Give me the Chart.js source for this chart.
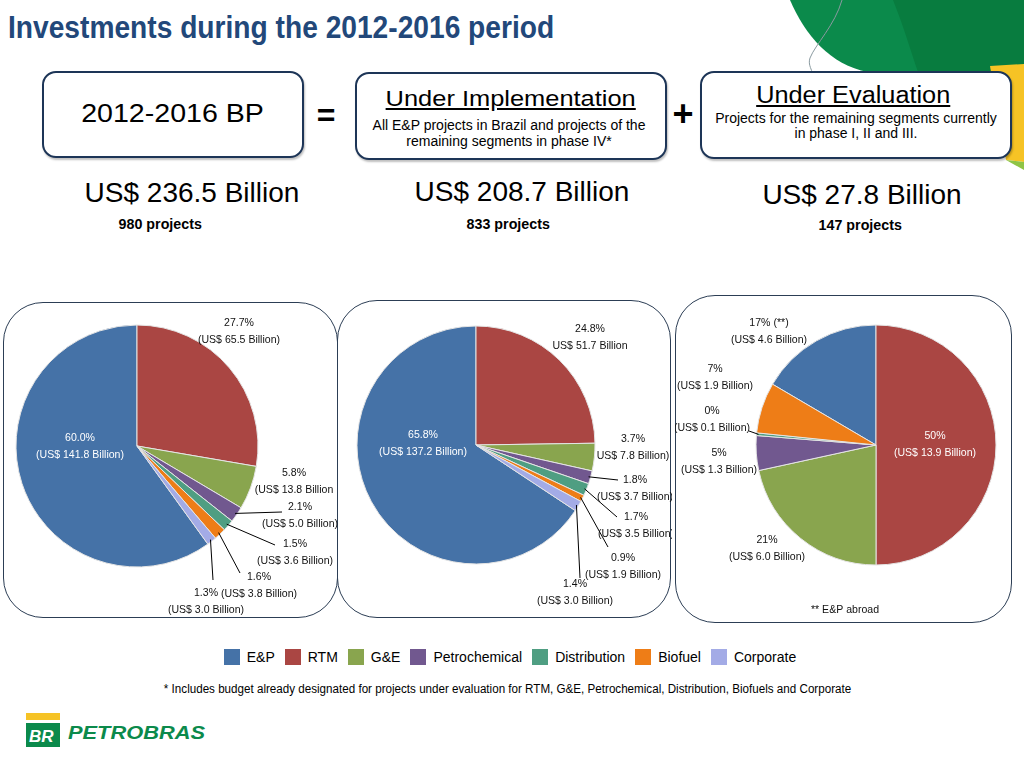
<!DOCTYPE html>
<html>
<head>
<meta charset="utf-8">
<script src="https://cdn.jsdelivr.net/npm/chart.js@4.4.0/dist/chart.umd.min.js"></script>
<style>
  html, body { margin:0; padding:0; background:#fff; }
  body { width:1024px; height:768px; position:relative; overflow:hidden; font-family:'Liberation Sans', Arial, sans-serif; color:#000; }
  .t { position:absolute; line-height:1; white-space:nowrap; text-align:center; }
  .t > span { display:inline-block; }
  .box { position:absolute; border:2px solid #1d3557; border-radius:14px; background:#fff; box-shadow:1px 2px 2px rgba(0,0,0,0.25); box-sizing:border-box; }
  .panel { position:absolute; border:1px solid #2c3e55; border-radius:40px; box-sizing:border-box; }
  canvas { position:absolute; }
  #legend { position:absolute; left:0; top:649px; width:1010px; display:flex; justify-content:center; font-size:14px; line-height:16px; }
  #legend span.sw { display:inline-block; width:16px; height:16px; margin:0 7px 0 10px; vertical-align:-3px; }
</style>
</head>
<body>
<svg width="1024" height="180" style="position:absolute;left:0;top:0">
  <path d="M790,0 C805,35 830,65 868,72 L1024,72 L1024,0 Z" fill="#0b8a4b"/>
  <path d="M893,0 C905,30 912,55 918,72 L1024,72 L1024,0 Z" fill="#087c3f"/>
  <path d="M990,66 L1024,64 L1024,162 L1006,160 Z" fill="#f6c325"/>
  <path d="M1006,160 L1024,162 L1024,170 Z" fill="#8fc446"/>
  <path d="M842,0 C835,25 815,45 810,58 C808,64 811,68 812,72" stroke="#8a9aa0" stroke-width="1" fill="none"/>
</svg>

<div class="t" style="left:8px;top:11px;text-align:left;font-size:32px;font-weight:bold;color:#22487a;"><span style="transform:scaleX(0.88);transform-origin:0 0;">Investments during the 2012-2016 period</span></div>

<div class="box" style="left:42px;top:71px;width:262px;height:87px;"></div>
<div class="box" style="left:355px;top:72px;width:312px;height:88px;"></div>
<div class="box" style="left:700px;top:71px;width:312px;height:88px;"></div>

<div class="t" style="left:23px;width:300px;top:101px;font-size:25.5px;"><span style="transform:scaleX(1.12);">2012-2016 BP</span></div>
<div class="t" style="left:306px;width:40px;top:99px;font-size:32px;font-weight:bold;">=</div>
<div class="t" style="left:361px;width:300px;top:88px;font-size:22.5px;"><span style="transform:scaleX(1.13);text-decoration:underline;">Under Implementation</span></div>
<div class="t" style="left:359px;width:300px;top:117px;font-size:14px;line-height:16px;">All E&amp;P projects in Brazil and projects of the<br>remaining segments in phase IV*</div>
<div class="t" style="left:663px;width:40px;top:96px;font-size:36px;font-weight:bold;">+</div>
<div class="t" style="left:703px;width:300px;top:84px;font-size:23px;"><span style="transform:scaleX(1.1);text-decoration:underline;">Under Evaluation</span></div>
<div class="t" style="left:706px;width:300px;top:111px;font-size:14px;line-height:15px;">Projects for the remaining segments currently<br>in phase I, II and III.</div>

<div class="t" style="left:42px;width:300px;top:179px;font-size:28px;">US$ 236.5 Billion</div>
<div class="t" style="left:372px;width:300px;top:178px;font-size:28px;">US$ 208.7 Billion</div>
<div class="t" style="left:712px;width:300px;top:181px;font-size:28px;">US$ 27.8 Billion</div>
<div class="t" style="left:60px;width:200px;top:216px;font-size:15.5px;font-weight:bold;"><span style="transform:scaleX(0.92);">980 projects</span></div>
<div class="t" style="left:408px;width:200px;top:216px;font-size:15.5px;font-weight:bold;"><span style="transform:scaleX(0.92);">833 projects</span></div>
<div class="t" style="left:760px;width:200px;top:217px;font-size:15.5px;font-weight:bold;"><span style="transform:scaleX(0.92);">147 projects</span></div>

<div class="panel" style="left:3px;top:302px;width:335px;height:316px;"></div>
<div class="panel" style="left:337px;top:300px;width:334px;height:318px;"></div>
<div class="panel" style="left:675px;top:295px;width:337px;height:328px;"></div>

<canvas id="pie1" width="335" height="322" style="left:3px;top:300px"></canvas>
<canvas id="pie2" width="335" height="322" style="left:337px;top:300px"></canvas>
<canvas id="pie3" width="339" height="328" style="left:675px;top:296px"></canvas>

<div id="legend"></div>
<div class="t" style="left:0;width:1016px;top:683px;font-size:12.5px;"><span style="transform:scaleX(0.93);">* Includes budget already designated for projects under evaluation for RTM, G&amp;E, Petrochemical, Distribution, Biofuels and Corporate</span></div>

<svg width="200" height="50" style="position:absolute;left:20px;top:708px">
  <rect x="6" y="5" width="34" height="7" fill="#f6c325"/>
  <rect x="6" y="15" width="34" height="24" fill="#0b8a4b"/>
  <text x="9" y="34" font-family="Liberation Sans" font-weight="bold" font-style="italic" font-size="17" fill="#fff">BR</text>
  <text x="48" y="31" font-family="Liberation Sans" font-weight="bold" font-style="italic" font-size="19" fill="#0b8a4b" textLength="137" lengthAdjust="spacingAndGlyphs">PETROBRAS</text>
</svg>

<script>
// segments, in legend order
const segments = ['E&P', 'RTM', 'G&E', 'Petrochemical', 'Distribution', 'Biofuel', 'Corporate'];
const colors = ['#4572a7', '#aa4643', '#89a54e', '#71588f', '#4f9e82', '#ee7d17', '#a3abe6'];

// US$ billion per segment
const bpValues = [141.8, 65.5, 13.8, 5.0, 3.6, 3.8, 3.0];
const implValues = [137.2, 51.7, 7.8, 3.7, 3.5, 1.9, 3.0];
const evalValues = [4.6, 13.9, 6.0, 1.3, 0.1, 1.9, 0];

const bpPct = ['60.0%', '27.7%', '5.8%', '2.1%', '1.5%', '1.6%', '1.3%'];
const bpUsd = ['(US$ 141.8 Billion)', '(US$ 65.5 Billion)', '(US$ 13.8 Billion', '(US$ 5.0 Billion)', '(US$ 3.6 Billion)', '(US$ 3.8 Billion)', '(US$ 3.0 Billion)'];
const implPct = ['65.8%', '24.8%', '3.7%', '1.8%', '1.7%', '0.9%', '1.4%'];
const implUsd = ['(US$ 137.2 Billion)', 'US$ 51.7 Billion', 'US$ 7.8 Billion)', '(US$ 3.7 Billion)', '(US$ 3.5 Billion)', '(US$ 1.9 Billion)', '(US$ 3.0 Billion)'];
const evalPct = ['17% (**)', '50%', '21%', '5%', '0%', '7%', ''];
const evalUsd = ['(US$ 4.6 Billion)', '(US$ 13.9 Billion)', '(US$ 6.0 Billion)', '(US$ 1.3 Billion)', '(US$ 0.1 Billion)', '(US$ 1.9 Billion)', ''];

const LABEL_FONT = "11.6px 'Liberation Sans', Arial, sans-serif";
const LABEL_SX = 0.91; // the slide uses a condensed face

// label layout: page position of the label's first line, optional leader end point
const bpLayout = [
  {x: 80, y: 438, white: true}, {x: 239, y: 323}, {x: 294, y: 473},
  {x: 300, y: 507, lx: 282, ly: 512}, {x: 295, y: 544, lx: 275, ly: 545},
  {x: 259, y: 577, lx: 240, ly: 573}, {x: 206, y: 593, lx: 213, ly: 580}
];
const implLayout = [
  {x: 423, y: 435, white: true}, {x: 590, y: 329}, {x: 633, y: 439},
  {x: 635, y: 480, lx: 618, ly: 480}, {x: 636, y: 517, lx: 617, ly: 517},
  {x: 623, y: 558, lx: 608, ly: 547}, {x: 575, y: 584, lx: 580, ly: 578}
];
const evalLayout = [
  {x: 769, y: 323}, {x: 935, y: 436, white: true}, {x: 767, y: 540},
  {x: 719, y: 453}, {x: 712, y: 411, lx: 749, ly: 431}, {x: 715, y: 369}, null
];

function narrowText(ctx, text, x, y) {
  ctx.save();
  ctx.translate(x, y);
  ctx.scale(LABEL_SX, 1);
  ctx.fillText(text, 0, 0);
  ctx.restore();
}

const labelPlugin = {
  id: 'sliceLabels',
  afterDatasetsDraw(chart, args, opts) {
    const ctx = chart.ctx;
    const meta = chart.getDatasetMeta(0);
    const ox = opts.left, oy = opts.top;
    ctx.save();
    ctx.font = LABEL_FONT;
    ctx.textAlign = 'center';
    ctx.textBaseline = 'middle';
    meta.data.forEach((arc, i) => {
      const lay = opts.layout[i];
      if (!lay) return;
      if (lay.lx !== undefined) {
        const mid = (arc.startAngle + arc.endAngle) / 2;
        const r = arc.outerRadius - 2;
        ctx.beginPath();
        ctx.strokeStyle = '#000';
        ctx.lineWidth = 1;
        ctx.moveTo(arc.x + Math.cos(mid) * r, arc.y + Math.sin(mid) * r);
        ctx.lineTo(lay.lx - ox, lay.ly - oy);
        ctx.stroke();
      }
      ctx.fillStyle = lay.white ? '#fff' : '#111';
      narrowText(ctx, opts.pct[i], lay.x - ox, lay.y - oy);
      narrowText(ctx, opts.usd[i], lay.x - ox, lay.y - oy + 17);
    });
    ctx.restore();
  }
};

function makePie(id, values, pct, usd, layout, left, top, cx, cy, r) {
  const canvas = document.getElementById(id);
  const W = canvas.width, H = canvas.height;
  const total = values.reduce((a, b) => a + b, 0);
  // E&P closes the circle at 12 o'clock, RTM starts there
  const rotation = (1 - values[0] / total) * 360;
  const ccx = cx - left, ccy = cy - top;
  return new Chart(canvas.getContext('2d'), {
    type: 'pie',
    data: {
      labels: segments,
      datasets: [{
        data: values,
        backgroundColor: colors,
        borderColor: '#e4e4e4',
        borderWidth: 1,
        hoverOffset: 0
      }]
    },
    options: {
      responsive: false,
      animation: false,
      rotation: rotation,
      radius: r,
      layout: { padding: { left: ccx - r, top: ccy - r, right: W - ccx - r, bottom: H - ccy - r } },
      plugins: {
        legend: { display: false },
        tooltip: { enabled: false },
        sliceLabels: { pct: pct, usd: usd, layout: layout, left: left, top: top }
      }
    },
    plugins: [labelPlugin]
  });
}

makePie('pie1', bpValues, bpPct, bpUsd, bpLayout, 3, 300, 137, 446, 121);
makePie('pie2', implValues, implPct, implUsd, implLayout, 337, 300, 476, 445, 119);
makePie('pie3', evalValues, evalPct, evalUsd, evalLayout, 675, 296, 876, 445, 120);

// legend below the charts
const legend = document.getElementById('legend');
segments.forEach((s, i) => {
  const item = document.createElement('div');
  item.innerHTML = '<span class="sw" style="background:' + colors[i] + '"></span>' + s.replace('&', '&amp;');
  legend.appendChild(item);
});

// note under the third pie
const c3 = document.getElementById('pie3').getContext('2d');
c3.font = LABEL_FONT;
c3.textAlign = 'center';
c3.textBaseline = 'middle';
c3.fillStyle = '#111';
narrowText(c3, '** E&P abroad', 845 - 675, 610 - 296);
</script>
</body>
</html>
